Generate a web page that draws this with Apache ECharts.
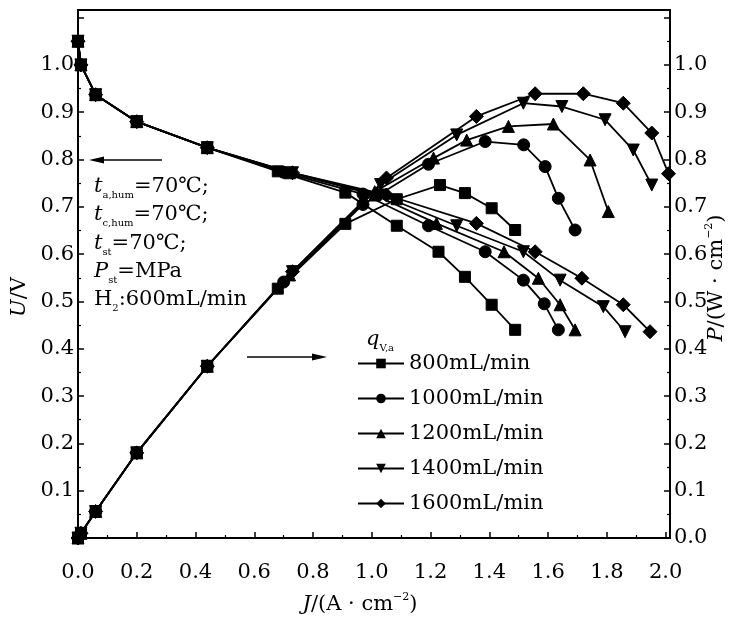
<!DOCTYPE html>
<html>
<head>
<meta charset="utf-8">
<script src="https://cdn.jsdelivr.net/npm/echarts@6/dist/echarts.min.js"></script>
<style>html,body{margin:0;padding:0;background:#fff}#c{width:737px;height:623px}</style>
</head>
<body>
<div id="c"></div>
<script>
// ---- data ----
const flowNames = ['800mL/min', '1000mL/min', '1200mL/min', '1400mL/min', '1600mL/min'];
const xTicks = [0.0, 0.2, 0.4, 0.6, 0.8, 1.0, 1.2, 1.4, 1.6, 1.8, 2.0];
const yTicks = [0.0, 0.1, 0.2, 0.3, 0.4, 0.5, 0.6, 0.7, 0.8, 0.9, 1.0];

// polarization curves U (V) vs J (A/cm2)
const jU800  = [0, 0.01, 0.06, 0.20, 0.44, 0.68, 0.91, 1.085, 1.227, 1.317, 1.408, 1.488];
const u800   = [1.05, 1.0, 0.937, 0.88, 0.825, 0.775, 0.73, 0.66, 0.605, 0.552, 0.493, 0.44];
const jU1000 = [0, 0.01, 0.06, 0.20, 0.44, 0.70, 0.97, 1.193, 1.386, 1.516, 1.587, 1.635];
const u1000  = [1.05, 1.0, 0.937, 0.88, 0.825, 0.773, 0.727, 0.66, 0.605, 0.545, 0.495, 0.44];
const jU1200 = [0, 0.01, 0.06, 0.20, 0.44, 0.72, 1.01, 1.22, 1.45, 1.567, 1.641, 1.692];
const u1200  = [1.05, 1.0, 0.937, 0.88, 0.825, 0.772, 0.725, 0.665, 0.605, 0.549, 0.493, 0.44];
const jU1400 = [0, 0.01, 0.06, 0.20, 0.44, 0.73, 1.03, 1.289, 1.516, 1.641, 1.788, 1.862];
const u1400  = [1.05, 1.0, 0.937, 0.88, 0.825, 0.772, 0.725, 0.66, 0.605, 0.545, 0.489, 0.436];
const jU1600 = [0, 0.01, 0.06, 0.20, 0.44, 0.73, 1.05, 1.356, 1.556, 1.715, 1.856, 1.947];
const u1600  = [1.05, 1.0, 0.937, 0.88, 0.825, 0.772, 0.725, 0.665, 0.605, 0.549, 0.493, 0.436];

// power density curves P (W/cm2) vs J (A/cm2)
const jP800  = [0, 0.01, 0.06, 0.20, 0.44, 0.68, 0.91, 1.085, 1.232, 1.317, 1.408, 1.488];
const p800   = [0, 0.01, 0.056, 0.18, 0.363, 0.527, 0.664, 0.716, 0.746, 0.729, 0.697, 0.651];
const jP1000 = [0, 0.01, 0.06, 0.20, 0.44, 0.70, 0.97, 1.193, 1.386, 1.517, 1.59, 1.635, 1.692];
const p1000  = [0, 0.01, 0.056, 0.18, 0.363, 0.541, 0.705, 0.79, 0.838, 0.831, 0.785, 0.718, 0.651];
const jP1200 = [0, 0.01, 0.06, 0.20, 0.44, 0.72, 1.01, 1.21, 1.323, 1.465, 1.618, 1.743, 1.805];
const p1200  = [0, 0.01, 0.056, 0.18, 0.363, 0.556, 0.732, 0.803, 0.841, 0.870, 0.875, 0.799, 0.690];
const jP1400 = [0, 0.01, 0.06, 0.20, 0.44, 0.73, 1.03, 1.289, 1.516, 1.647, 1.794, 1.890, 1.953];
const p1400  = [0, 0.01, 0.056, 0.18, 0.363, 0.563, 0.747, 0.852, 0.919, 0.912, 0.884, 0.820, 0.746];
const jP1600 = [0, 0.01, 0.06, 0.20, 0.44, 0.73, 1.05, 1.356, 1.556, 1.720, 1.856, 1.953, 2.01];
const p1600  = [0, 0.01, 0.056, 0.18, 0.363, 0.563, 0.761, 0.891, 0.939, 0.939, 0.919, 0.856, 0.770];

// ---- chart ----
const FONT = 'DejaVu Serif';
const pairs = (xs, ys) => xs.map((x, i) => [x, ys[i]]);
const uSets = [[jU800, u800], [jU1000, u1000], [jU1200, u1200], [jU1400, u1400], [jU1600, u1600]];
const pSets = [[jP800, p800], [jP1000, p1000], [jP1200, p1200], [jP1400, p1400], [jP1600, p1600]];
const symbols = ['rect', 'circle', 'triangle', 'path://M0,0L20,0L10,17Z', 'diamond'];
const sizes = [11, 12, 12, 12, 14];

const series = [];
flowNames.forEach((name, k) => {
  [[uSets[k], 0], [pSets[k], 1]].forEach(([set, ax]) => {
    series.push({
      name: name,
      type: 'line',
      yAxisIndex: ax,
      data: pairs(set[0], set[1]),
      symbol: symbols[k],
      symbolSize: sizes[k],
      showAllSymbol: true,
      lineStyle: { color: '#000', width: 1.8 },
      itemStyle: { color: '#000', borderColor: '#000' },
      emphasis: { disabled: true },
      animation: false
    });
  });
});

const fmt = (lo, hi) => v => {
  const r = Math.round(v * 10) / 10;
  if (Math.abs(v - r) > 1e-6 || r < lo - 1e-6 || r > hi + 1e-6) return '';
  return r.toFixed(1);
};

const axisCommon = {
  axisLine: { show: true, lineStyle: { color: '#000', width: 2 } },
  axisTick: { show: true, inside: true, length: 6, lineStyle: { color: '#000', width: 1.5 } },
  minorTick: { show: true, splitNumber: 2, length: 3, lineStyle: { color: '#000', width: 1.2 } },
  splitLine: { show: false },
  axisLabel: { color: '#000', fontFamily: FONT, fontSize: 21 }
};

const chart = echarts.init(document.getElementById('c'), null, { renderer: 'canvas' });
const rich = {
  i: { fontFamily: FONT, fontSize: 21, fontStyle: 'italic', fill: '#000', lineHeight: 26 },
  n: { fontFamily: FONT, fontSize: 21, fill: '#000', lineHeight: 26 },
  s: { fontFamily: FONT, fontSize: 10, fill: '#000', verticalAlign: 'bottom', lineHeight: 26 },
  p: { fontFamily: FONT, fontSize: 11, fill: '#000', verticalAlign: 'top', lineHeight: 26 }
};
const txt = (x, y, text, extra) => Object.assign({
  type: 'text', x: x, y: y, silent: true,
  style: { text: text, rich: rich, fill: '#000', textVerticalAlign: 'middle', verticalAlign: 'middle' }
}, extra || {});

chart.setOption({
  animation: false,
  backgroundColor: '#fff',
  grid: { left: 78, right: 67, top: 10, bottom: 85, show: true, borderColor: '#000', borderWidth: 2, outerBoundsMode: 'none' },
  xAxis: Object.assign({}, axisCommon, {
    type: 'value', min: 0, max: 2.015, interval: 0.2,
    axisLabel: Object.assign({}, axisCommon.axisLabel, { margin: 24, formatter: fmt(xTicks[0], xTicks[xTicks.length - 1]), showMaxLabel: true })
  }),
  yAxis: [
    Object.assign({}, axisCommon, {
      type: 'value', min: 0, max: 1.116, interval: 0.1, position: 'left',
      axisLabel: Object.assign({}, axisCommon.axisLabel, { margin: 4, formatter: fmt(yTicks[1], yTicks[yTicks.length - 1]) })
    }),
    Object.assign({}, axisCommon, {
      type: 'value', min: 0, max: 1.116, interval: 0.1, position: 'right',
      axisLabel: Object.assign({}, axisCommon.axisLabel, { margin: 4, formatter: fmt(yTicks[0], yTicks[yTicks.length - 1]) })
    })
  ],
  legend: {
    data: flowNames,
    orient: 'vertical',
    left: 352, top: 348,
    itemWidth: 46, itemHeight: 12, itemGap: 14,
    selectedMode: false,
    textStyle: { color: '#000', fontFamily: FONT, fontSize: 21 }
  },
  graphic: [
    // axis titles
    txt(20, 297, '{i|U}{n|/V}', { rotation: Math.PI / 2, style: { text: '{i|U}{n|/V}', rich: rich, align: 'center', verticalAlign: 'middle' } }),
    txt(717, 278, '{i|P}{n|/(W · cm}{p|−2}{n|)}', { rotation: Math.PI / 2, style: { text: '{i|P}{n|/(W · cm}{p|−2}{n|)}', rich: rich, align: 'center', verticalAlign: 'middle' } }),
    txt(360, 605, '{i|J}{n|/(A · cm}{p|−2}{n|)}', { style: { text: '{i|J}{n|/(A · cm}{p|−2}{n|)}', rich: rich, align: 'center', verticalAlign: 'middle' } }),
    // operating conditions
    txt(94, 187, '{i|t}{s|a,hum}{n|=70℃;}'),
    txt(94, 215, '{i|t}{s|c,hum}{n|=70℃;}'),
    txt(94, 244, '{i|t}{s|st}{n|=70℃;}'),
    txt(94, 272, '{i|P}{s|st}{n|=MPa}'),
    txt(94, 300, '{n|H}{s|2}{n|:600mL/min}'),
    // legend title
    txt(366, 340, '{i|q}{s|V,a}'),
    // arrows
    { type: 'line', silent: true, shape: { x1: 96, y1: 160, x2: 162, y2: 160 }, style: { stroke: '#000', lineWidth: 1.5 } },
    { type: 'polygon', silent: true, shape: { points: [[89, 160], [104, 156.5], [104, 163.5]] }, style: { fill: '#000' } },
    { type: 'line', silent: true, shape: { x1: 247, y1: 357, x2: 320, y2: 357 }, style: { stroke: '#000', lineWidth: 1.5 } },
    { type: 'polygon', silent: true, shape: { points: [[327, 357], [312, 353.5], [312, 360.5]] }, style: { fill: '#000' } }
  ],
  series: series
});
</script>
</body>
</html>
